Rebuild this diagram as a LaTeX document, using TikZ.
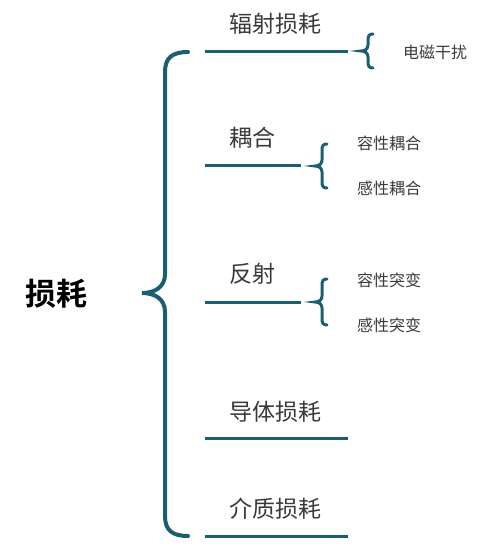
\documentclass[tikz,border=0pt]{standalone}
\usepackage{fontspec}
\setmainfont{Noto Sans CJK SC}[BoldFont={Noto Sans CJK SC Bold}]
\usepackage{tikz}

\definecolor{teal}{HTML}{1B5E72}
\definecolor{ink}{HTML}{3A3A3A}

\tikzset{
  stem/.style={draw=teal, line width=3pt},
  curly/.style={draw=teal, line width=3pt, line cap=round},
  topic/.style={font=\bfseries\fontsize{31}{31}\selectfont, inner sep=0pt, anchor=west},
  branch/.style={font=\fontsize{23}{23}\selectfont, text=ink, inner sep=0pt, anchor=west},
  leaf/.style={font=\fontsize{16}{16}\selectfont, text=ink, inner sep=0pt, anchor=west}
}

% small brace: tip x, centre y, half height
\newcommand{\smallbrace}[3]{%
  \begin{scope}[shift={(#1,#2)}]
    \draw[curly] (12,{-#3}) .. controls (8,{-#3}) and (7,{-#3+2}) .. (7,{-#3+6})
      -- (7,-6) .. controls (7,-2) and (4,0) .. (0,0)
      .. controls (4,0) and (7,2) .. (7,6)
      -- (7,{#3-6}) .. controls (7,{#3-2}) and (8,{#3}) .. (12,{#3});
  \end{scope}}

\begin{document}
\begin{tikzpicture}[x=1pt, y=-1pt]
        \useasboundingbox (0,0) rectangle (500,551);
        \node[topic] (root) at (25,294) {损耗};
        % big brace
        \draw[curly, line width=4pt] (188,52) .. controls (172,52) and (165,58) .. (165,72)
          -- (165,274) .. controls (165,287) and (155,293) .. (142,293)
          .. controls (155,293) and (165,299) .. (165,312)
          -- (165,516) .. controls (165,530) and (172,536) .. (188,536);
        % branches
        \coordinate (radL) at (205,52);  \coordinate (radR) at (348,52);
        \coordinate (cplL) at (205,165); \coordinate (cplR) at (301,165);
        \coordinate (rflL) at (205,302); \coordinate (rflR) at (301,302);
        \coordinate (conL) at (205,438); \coordinate (conR) at (348,438);
        \coordinate (dieL) at (205,536); \coordinate (dieR) at (348,536);
        \draw[stem] (radL) -- (radR);
        \draw[stem] (cplL) -- (cplR);
        \draw[stem] (rflL) -- (rflR);
        \draw[stem] (conL) -- (conR);
        \draw[stem] (dieL) -- (dieR);
        \node[branch] (rad) at (229,24) {辐射损耗};
        \node[branch] (cpl) at (229,138) {耦合};
        \node[branch] (rfl) at (229,274) {反射};
        \node[branch] (con) at (229,412) {导体损耗};
        \node[branch] (die) at (229,509) {介质损耗};
        % leaves
        \smallbrace{361}{51}{17}
        \smallbrace{315}{166}{22}
        \smallbrace{315}{302}{23}
        \node[leaf] (emi) at (403,52) {电磁干扰};
        \node[leaf] (capc) at (357,143) {容性耦合};
        \node[leaf] (indc) at (357,188) {感性耦合};
        \node[leaf] (caps) at (357,280) {容性突变};
        \node[leaf] (inds) at (357,325) {感性突变};
\end{tikzpicture}
\end{document}
